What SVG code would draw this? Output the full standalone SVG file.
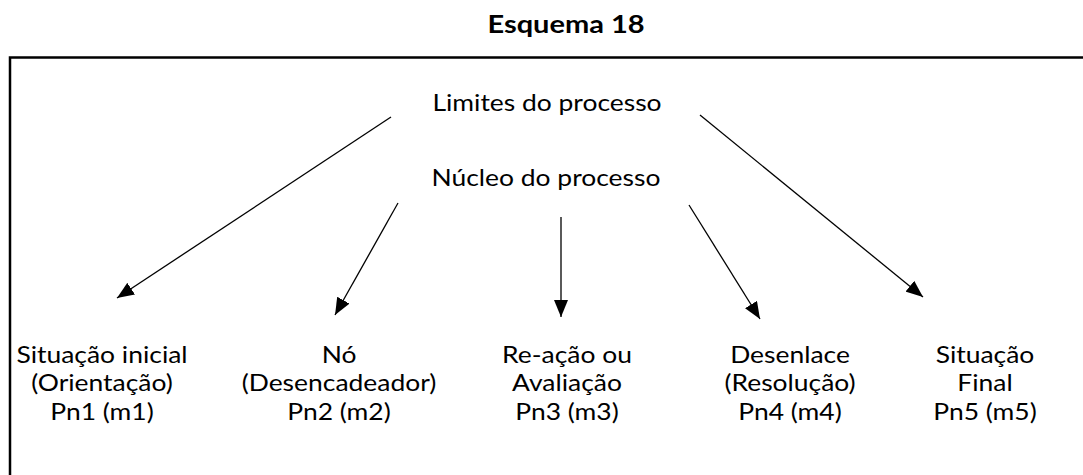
<svg xmlns="http://www.w3.org/2000/svg" width="1083" height="475" viewBox="0 0 1083 475">
  <style>
    .t { font-family: Lato, "Open Sans", sans-serif; font-size: 23px; fill: #000; text-anchor: middle; }
    .title { font-family: Lato, "Open Sans", sans-serif; font-size: 25px; font-weight: bold; fill: #000; text-anchor: middle; }
    .edge { stroke: #000; stroke-width: 1.3; fill: none; marker-end: url(#ah); }
  </style>
  <defs>
    <marker id="ah" markerUnits="userSpaceOnUse" markerWidth="18" markerHeight="14" refX="17" refY="7" orient="auto">
      <path d="M0,0 L17,7 L0,14 Z" fill="#000"/>
    </marker>
  </defs>
  <rect width="1083" height="475" fill="#fff"/>
  <g id="title" transform="translate(566,0) scale(1.16,1)"><text class="title" x="0" y="33">Esquema 18</text></g>
  <rect x="10" y="57.5" width="1090" height="430" fill="none" stroke="#000" stroke-width="2.5"/>
  <g id="connectors">
    <line class="edge" x1="391" y1="117" x2="117" y2="298"/>
    <line class="edge" x1="398" y1="203" x2="335" y2="315"/>
    <line class="edge" x1="561" y1="217" x2="561" y2="317"/>
    <line class="edge" x1="689" y1="205" x2="760" y2="319"/>
    <line class="edge" x1="700" y1="115" x2="923" y2="297"/>
  </g>
  <g id="limites" transform="translate(547,0) scale(1.15,1)"><text class="t" x="0" y="111">Limites do processo</text></g>
  <g id="nucleo" transform="translate(546,0) scale(1.15,1)"><text class="t" x="0" y="186">Núcleo do processo</text></g>
  <g id="pn1" transform="translate(102,0) scale(1.15,1)">
    <text class="t" x="0" y="363">Situação inicial</text>
    <text class="t" x="0" y="391.5">(Orientação)</text>
    <text class="t" x="0" y="420">Pn1 (m1)</text>
  </g>
  <g id="pn2" transform="translate(339,0) scale(1.15,1)">
    <text class="t" x="0" y="363">Nó</text>
    <text class="t" x="0" y="391.5">(Desencadeador)</text>
    <text class="t" x="0" y="420">Pn2 (m2)</text>
  </g>
  <g id="pn3" transform="translate(567,0) scale(1.15,1)">
    <text class="t" x="0" y="363">Re-ação ou</text>
    <text class="t" x="0" y="391.5">Avaliação</text>
    <text class="t" x="0" y="420">Pn3 (m3)</text>
  </g>
  <g id="pn4" transform="translate(790,0) scale(1.15,1)">
    <text class="t" x="0" y="363">Desenlace</text>
    <text class="t" x="0" y="391.5">(Resolução)</text>
    <text class="t" x="0" y="420">Pn4 (m4)</text>
  </g>
  <g id="pn5" transform="translate(985,0) scale(1.15,1)">
    <text class="t" x="0" y="363">Situação</text>
    <text class="t" x="0" y="391.5">Final</text>
    <text class="t" x="0" y="420">Pn5 (m5)</text>
  </g>
</svg>
